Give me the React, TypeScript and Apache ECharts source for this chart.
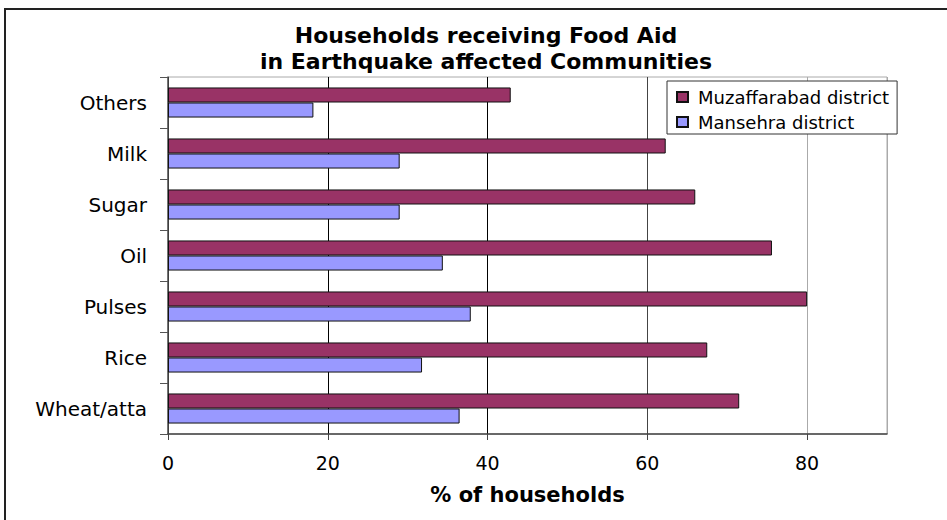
import React, { useEffect, useRef } from "react";
import * as echarts from "echarts";

const categories = ["Wheat/atta", "Rice", "Pulses", "Oil", "Sugar", "Milk", "Others"];
const muzaffarabad = [71.5, 67.5, 80, 75.6, 66, 62.3, 42.9];
const mansehra = [36.5, 31.8, 37.9, 34.4, 29, 29, 18.2];
const xTicks = { min: 0, max: 90, interval: 20 };

export default function App() {
  const ref = useRef<HTMLDivElement>(null);
  useEffect(() => {
    const chart = echarts.init(ref.current!, null, { renderer: "svg" });
    const font = "'DejaVu Sans', Verdana, sans-serif";
    chart.setOption({
      animation: false,
      backgroundColor: "#ffffff",
      textStyle: { fontFamily: font },
      title: {
        text: "Households receiving Food Aid\nin Earthquake affected Communities",
        left: 486,
        textAlign: "center",
        top: 22,
        padding: 0,
        textStyle: { fontFamily: font, fontSize: 22, fontWeight: "bold", color: "#000", lineHeight: 26 },
      },
      graphic: [
        {
          type: "rect",
          shape: { x: 5, y: 9, width: 960, height: 530 },
          style: { fill: "none", stroke: "#222", lineWidth: 2 },
          z: 100,
        },
      ],
      legend: {
        data: ["Muzaffarabad district", "Mansehra district"],
        orient: "vertical",
        left: 667,
        top: 81,
        padding: [7, 8, 3, 9],
        itemGap: 7,
        itemWidth: 11,
        itemHeight: 10,
        backgroundColor: "#fff",
        borderColor: "#333",
        borderWidth: 1,
        borderRadius: 0,
        icon: "rect",
        textStyle: { fontFamily: font, fontSize: 18, color: "#000", padding: [0, 0, 0, 5] },
      },
      grid: { left: 168, right: 60, top: 77, bottom: 86, containLabel: false, show: true, borderColor: "#aaa", borderWidth: 1 },
      xAxis: {
        type: "value",
        min: xTicks.min,
        max: xTicks.max,
        interval: xTicks.interval,
        name: "% of households",
        nameLocation: "middle",
        nameGap: 50,
        nameTextStyle: { fontFamily: font, fontSize: 21, fontWeight: "bold", color: "#000" },
        axisLine: { show: true, lineStyle: { color: "#444", width: 1.5 } },
        axisTick: { show: true, length: 6, lineStyle: { color: "#444" } },
        axisLabel: { fontFamily: font, fontSize: 19, color: "#000", margin: 19, showMaxLabel: false },
        splitLine: { show: true, lineStyle: { color: ["#000", "#000", "#000", "#444", "#aaa", "#aaa"], width: 1 } },
      },
      yAxis: {
        type: "category",
        data: categories,
        axisLine: { show: true, lineStyle: { color: "#555", width: 1.5 } },
        axisTick: { show: true, length: 8, lineStyle: { color: "#555" } },
        axisLabel: { fontFamily: font, fontSize: 20, color: "#000", margin: 21 },
        splitLine: { show: false },
      },
      series: [
        {
          name: "Muzaffarabad district",
          type: "bar",
          data: muzaffarabad,
          barGap: "0%",
          barCategoryGap: "41%",
          itemStyle: { color: "#993366", borderColor: "#111", borderWidth: 1 },
        },
        {
          name: "Mansehra district",
          type: "bar",
          data: mansehra,
          barGap: "0%",
          barCategoryGap: "41%",
          itemStyle: { color: "#9999FF", borderColor: "#111", borderWidth: 1 },
        },
      ],
    });
    return () => chart.dispose();
  }, []);
  return <div ref={ref} style={{ position: "absolute", left: 0, top: 0, width: 947, height: 520 }} />;
}
